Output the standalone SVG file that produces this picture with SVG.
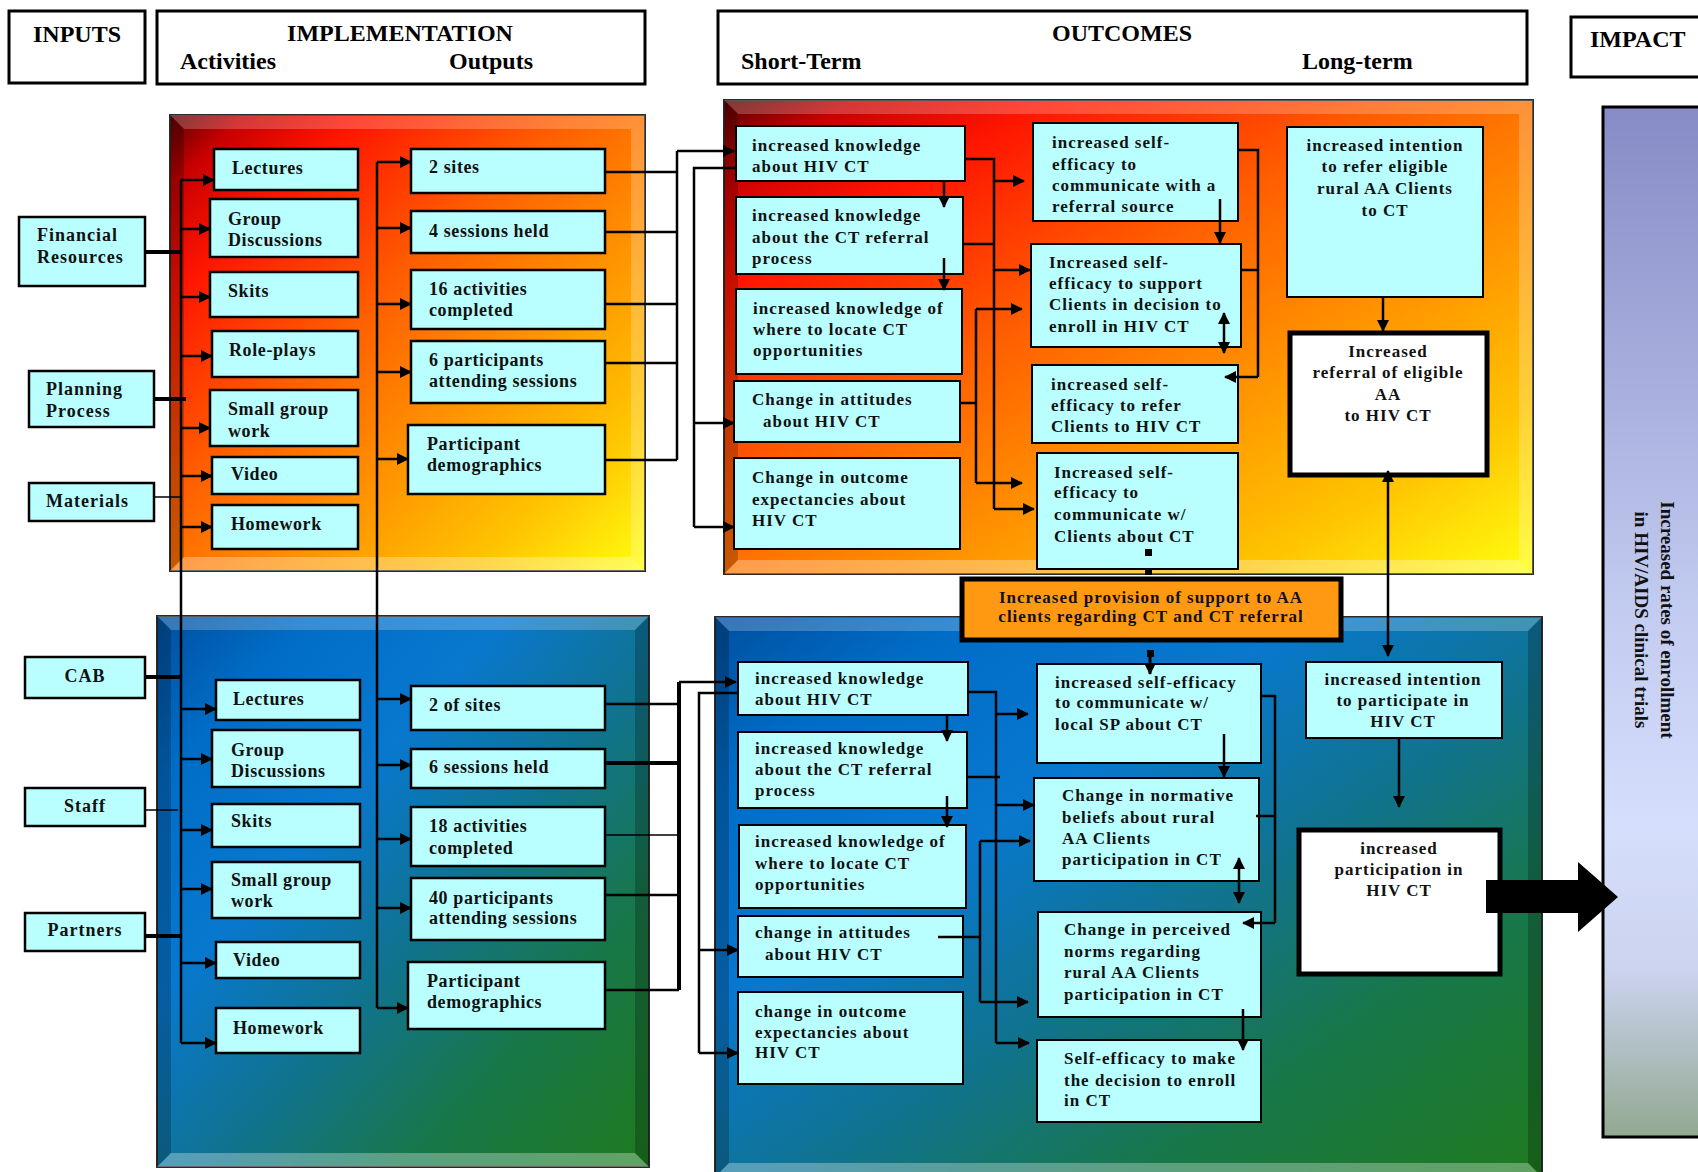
<svg xmlns="http://www.w3.org/2000/svg" width="1698" height="1172" viewBox="0 0 1698 1172">
<defs>
<linearGradient id="gTop" x1="0" y1="0" x2="1" y2="1">
<stop offset="0" stop-color="#5a0000"/><stop offset="0.08" stop-color="#c80000"/><stop offset="0.2" stop-color="#ff1500"/><stop offset="0.42" stop-color="#ff5e00"/><stop offset="0.62" stop-color="#ff9200"/><stop offset="0.82" stop-color="#ffc400"/><stop offset="1" stop-color="#ffff10"/>
</linearGradient>
<linearGradient id="gBot" x1="0" y1="0" x2="1" y2="1">
<stop offset="0" stop-color="#004f9e"/><stop offset="0.15" stop-color="#006cc6"/><stop offset="0.35" stop-color="#0878cf"/><stop offset="0.55" stop-color="#107390"/><stop offset="0.75" stop-color="#18774a"/><stop offset="1" stop-color="#1e7a1e"/>
</linearGradient>
<linearGradient id="gImp" x1="0" y1="0" x2="0" y2="1">
<stop offset="0" stop-color="#878bc6"/><stop offset="0.5" stop-color="#c4cdf1"/><stop offset="0.7" stop-color="#d5defb"/><stop offset="0.84" stop-color="#cbd3ee"/><stop offset="1" stop-color="#92a890"/>
</linearGradient>
<marker id="ah" viewBox="0 0 12 12" markerWidth="12" markerHeight="12" refX="11" refY="6" orient="auto-start-reverse" markerUnits="userSpaceOnUse"><path d="M0,0 L12,6 L0,12 z" fill="#000"/></marker>
<style>
.hb{fill:#fff;stroke:#000;stroke-width:3}
.h{font-family:"Liberation Serif","Times New Roman",serif;font-weight:bold;font-size:24px;fill:#000}
.bx{fill:#b9ffff;stroke:#000;stroke-width:2.5}
.ob{fill:#b9ffff;stroke:#000;stroke-width:2}
.wb{fill:#fff;stroke:#000;stroke-width:5}
.t{font-family:"Liberation Serif","Times New Roman",serif;font-weight:bold;font-size:18px;letter-spacing:0.6px;fill:#111}
.ti{font-family:"Liberation Serif","Times New Roman",serif;font-weight:bold;font-size:18px;letter-spacing:1px;fill:#111}
.to{font-family:"Liberation Serif","Times New Roman",serif;font-weight:bold;font-size:17px;letter-spacing:1px;fill:#111}
.tr{font-family:"Liberation Serif","Times New Roman",serif;font-weight:bold;font-size:19px;fill:#111;text-anchor:middle}
.c{text-anchor:middle}
.ln{fill:none;stroke:#000;stroke-width:2.5}
.lk{fill:none;stroke:#000;stroke-width:4}
.lt{fill:none;stroke:#000;stroke-width:1.5}
.ar{fill:none;stroke:#000;stroke-width:2.5;marker-end:url(#ah)}
.ar2{fill:none;stroke:#000;stroke-width:2.5;marker-start:url(#ah);marker-end:url(#ah)}
.pn{stroke:#2a2a2a;stroke-width:2}
.bl{fill:#fff;opacity:0.22}
.bd{fill:#000;opacity:0.22}
.bL{fill:#fff;opacity:0.3}
</style>
</defs>
<rect width="1698" height="1172" fill="#fff"/>

<!-- headers -->
<g id="hdr-inputs"><rect class="hb" x="9" y="11" width="136" height="72"/><text class="h c" x="77" y="42">INPUTS</text></g>
<g id="hdr-impl"><rect class="hb" x="157" y="11" width="488" height="73"/><text class="h c" x="400" y="41">IMPLEMENTATION</text><text class="h" x="180" y="69">Activities</text><text class="h" x="449" y="69">Outputs</text></g>
<g id="hdr-outcomes"><rect class="hb" x="718" y="11" width="809" height="73"/><text class="h c" x="1122" y="41">OUTCOMES</text><text class="h" x="741" y="69">Short-Term</text><text class="h" x="1302" y="69">Long-term</text></g>
<g id="hdr-impact"><rect class="hb" x="1571" y="17" width="140" height="60"/><text class="h" x="1590" y="47">IMPACT</text></g>

<!-- panels -->
<g id="panel-impl-top">
<rect class="pn" x="170" y="115" width="475" height="456" fill="url(#gTop)"/>
<polygon class="bl" points="170,115 645,115 631,129 184,129"/>
<polygon class="bd" points="170,115 184,129 184,557 170,571"/>
<polygon class="bl" points="645,115 645,571 631,557 631,129"/>
<polygon class="bL" points="170,571 645,571 631,557 184,557"/>
</g>
<g id="panel-out-top">
<rect class="pn" x="724" y="100" width="809" height="474" fill="url(#gTop)"/>
<polygon class="bl" points="724,100 1533,100 1519,114 738,114"/>
<polygon class="bd" points="724,100 738,114 738,560 724,574"/>
<polygon class="bl" points="1533,100 1533,574 1519,560 1519,114"/>
<polygon class="bL" points="724,574 1533,574 1519,560 738,560"/>
</g>
<g id="panel-impl-bot">
<rect class="pn" x="157" y="616" width="492" height="551" fill="url(#gBot)"/>
<polygon class="bl" points="157,616 649,616 635,630 171,630"/>
<polygon class="bd" points="157,616 171,630 171,1153 157,1167"/>
<polygon class="bd" points="649,616 649,1167 635,1153 635,630"/>
<polygon class="bL" points="157,1167 649,1167 635,1153 171,1153"/>
</g>
<g id="panel-out-bot">
<rect class="pn" x="715" y="617" width="827" height="560" fill="url(#gBot)"/>
<polygon class="bl" points="715,617 1542,617 1528,631 729,631"/>
<polygon class="bd" points="715,617 729,631 729,1163 715,1177"/>
<polygon class="bd" points="1542,617 1542,1177 1528,1163 1528,631"/>
<polygon class="bL" points="715,1177 1542,1177 1528,1163 729,1163"/>
</g>

<!-- impact -->
<g id="impact">
<rect x="1603" y="107" width="110" height="1030" fill="url(#gImp)" stroke="#000" stroke-width="3"/>
<text class="tr" transform="translate(1661,620) rotate(90)">Increased rates of enrollment</text>
<text class="tr" transform="translate(1635,620) rotate(90)">in HIV/AIDS clinical trials</text>
</g>

<!-- inputs -->
<g id="in-financial"><rect class="bx" x="19" y="217" width="126" height="69"/><text class="ti" x="37" y="241">Financial</text><text class="ti" x="37" y="263">Resources</text></g>
<g id="in-planning"><rect class="bx" x="29" y="371" width="125" height="56"/><text class="ti" x="46" y="395">Planning</text><text class="ti" x="46" y="417">Process</text></g>
<g id="in-materials"><rect class="bx" x="29" y="483" width="125" height="38"/><text class="ti" x="46" y="507">Materials</text></g>
<g id="in-cab"><rect class="bx" x="25" y="657" width="120" height="41"/><text class="ti c" x="85" y="682">CAB</text></g>
<g id="in-staff"><rect class="bx" x="25" y="788" width="120" height="38"/><text class="ti c" x="85" y="812">Staff</text></g>
<g id="in-partners"><rect class="bx" x="25" y="913" width="120" height="38"/><text class="ti c" x="85" y="936">Partners</text></g>

<!-- top activities -->
<g id="act-lectures-1"><rect class="bx" x="214" y="149" width="144" height="41"/><text class="t" x="232" y="174">Lectures</text></g>
<g id="act-group-1"><rect class="bx" x="210" y="199" width="148" height="58"/><text class="t" x="228" y="225">Group</text><text class="t" x="228" y="246">Discussions</text></g>
<g id="act-skits-1"><rect class="bx" x="210" y="272" width="148" height="45"/><text class="t" x="228" y="297">Skits</text></g>
<g id="act-roleplays-1"><rect class="bx" x="212" y="331" width="146" height="46"/><text class="t" x="229" y="356">Role-plays</text></g>
<g id="act-small-1"><rect class="bx" x="210" y="390" width="148" height="56"/><text class="t" x="228" y="415">Small group</text><text class="t" x="228" y="437">work</text></g>
<g id="act-video-1"><rect class="bx" x="212" y="457" width="146" height="37"/><text class="t" x="231" y="480">Video</text></g>
<g id="act-homework-1"><rect class="bx" x="212" y="505" width="146" height="44"/><text class="t" x="231" y="530">Homework</text></g>

<!-- top outputs -->
<g id="out-sites-1"><rect class="bx" x="411" y="149" width="194" height="44"/><text class="t" x="429" y="173">2 sites</text></g>
<g id="out-sessions-1"><rect class="bx" x="411" y="211" width="194" height="42"/><text class="t" x="429" y="237">4 sessions held</text></g>
<g id="out-activities-1"><rect class="bx" x="411" y="270" width="194" height="59"/><text class="t" x="429" y="295">16 activities</text><text class="t" x="429" y="316">completed</text></g>
<g id="out-participants-1"><rect class="bx" x="411" y="341" width="194" height="62"/><text class="t" x="429" y="366">6 participants</text><text class="t" x="429" y="387">attending sessions</text></g>
<g id="out-demo-1"><rect class="bx" x="408" y="425" width="197" height="69"/><text class="t" x="427" y="450">Participant</text><text class="t" x="427" y="471">demographics</text></g>

<!-- bottom activities -->
<g id="act-lectures-2"><rect class="bx" x="216" y="680" width="144" height="40"/><text class="t" x="233" y="705">Lectures</text></g>
<g id="act-group-2"><rect class="bx" x="212" y="730" width="148" height="57"/><text class="t" x="231" y="756">Group</text><text class="t" x="231" y="777">Discussions</text></g>
<g id="act-skits-2"><rect class="bx" x="212" y="804" width="148" height="43"/><text class="t" x="231" y="827">Skits</text></g>
<g id="act-small-2"><rect class="bx" x="212" y="862" width="148" height="56"/><text class="t" x="231" y="886">Small group</text><text class="t" x="231" y="907">work</text></g>
<g id="act-video-2"><rect class="bx" x="216" y="942" width="144" height="36"/><text class="t" x="233" y="966">Video</text></g>
<g id="act-homework-2"><rect class="bx" x="216" y="1008" width="144" height="45"/><text class="t" x="233" y="1034">Homework</text></g>

<!-- bottom outputs -->
<g id="out-sites-2"><rect class="bx" x="411" y="686" width="194" height="44"/><text class="t" x="429" y="711">2 of sites</text></g>
<g id="out-sessions-2"><rect class="bx" x="411" y="749" width="194" height="39"/><text class="t" x="429" y="773">6 sessions held</text></g>
<g id="out-activities-2"><rect class="bx" x="411" y="807" width="194" height="59"/><text class="t" x="429" y="832">18 activities</text><text class="t" x="429" y="854">completed</text></g>
<g id="out-participants-2"><rect class="bx" x="411" y="878" width="194" height="62"/><text class="t" x="429" y="904">40 participants</text><text class="t" x="429" y="924">attending sessions</text></g>
<g id="out-demo-2"><rect class="bx" x="408" y="962" width="197" height="67"/><text class="t" x="427" y="987">Participant</text><text class="t" x="427" y="1008">demographics</text></g>

<!-- top outcomes -->
<g id="oc-a1"><rect class="ob" x="736" y="126" width="229" height="55"/><text class="to" x="752" y="151">increased knowledge</text><text class="to" x="752" y="172">about HIV CT</text></g>
<g id="oc-b1"><rect class="ob" x="736" y="197" width="227" height="77"/><text class="to" x="752" y="221">increased knowledge</text><text class="to" x="752" y="243">about the CT referral</text><text class="to" x="752" y="264">process</text></g>
<g id="oc-c1"><rect class="ob" x="736" y="289" width="226" height="85"/><text class="to" x="753" y="314">increased knowledge of</text><text class="to" x="753" y="335">where to locate CT</text><text class="to" x="753" y="356">opportunities</text></g>
<g id="oc-d1"><rect class="ob" x="734" y="381" width="226" height="61"/><text class="to" x="752" y="405">Change in attitudes</text><text class="to" x="763" y="427">about HIV CT</text></g>
<g id="oc-e1"><rect class="ob" x="734" y="458" width="226" height="91"/><text class="to" x="752" y="483">Change in outcome</text><text class="to" x="752" y="505">expectancies about</text><text class="to" x="752" y="526">HIV CT</text></g>
<g id="oc-f1"><rect class="ob" x="1033" y="123" width="205" height="98"/><text class="to" x="1052" y="148">increased self-</text><text class="to" x="1052" y="170">efficacy to</text><text class="to" x="1052" y="191">communicate with a</text><text class="to" x="1052" y="212">referral source</text></g>
<g id="oc-g1"><rect class="ob" x="1031" y="244" width="210" height="103"/><text class="to" x="1049" y="268">Increased self-</text><text class="to" x="1049" y="289">efficacy to support</text><text class="to" x="1049" y="310">Clients in decision to</text><text class="to" x="1049" y="332">enroll in HIV CT</text></g>
<g id="oc-h1"><rect class="ob" x="1032" y="365" width="206" height="78"/><text class="to" x="1051" y="390">increased self-</text><text class="to" x="1051" y="411">efficacy to refer</text><text class="to" x="1051" y="432">Clients to HIV CT</text></g>
<g id="oc-i1"><rect class="ob" x="1037" y="453" width="201" height="116"/><text class="to" x="1054" y="478">Increased self-</text><text class="to" x="1054" y="498">efficacy to</text><text class="to" x="1054" y="520">communicate w/</text><text class="to" x="1054" y="542">Clients about CT</text></g>
<g id="oc-j1"><rect class="ob" x="1287" y="127" width="196" height="170"/><text class="to c" x="1385" y="151">increased intention</text><text class="to c" x="1385" y="172">to refer eligible</text><text class="to c" x="1385" y="194">rural AA Clients</text><text class="to c" x="1385" y="216">to CT</text></g>
<g id="oc-k1"><rect class="wb" x="1290" y="333" width="197" height="142"/><text class="to c" x="1388" y="357">Increased</text><text class="to c" x="1388" y="378">referral of eligible</text><text class="to c" x="1388" y="400">AA</text><text class="to c" x="1388" y="421">to HIV CT</text></g>

<!-- support box -->
<g id="support"><rect x="962" y="579" width="379" height="61" fill="#ff9912" stroke="#000" stroke-width="5"/><text class="to c" x="1151" y="603">Increased provision of support to AA</text><text class="to c" x="1151" y="622">clients regarding CT and CT referral</text></g>

<!-- bottom outcomes -->
<g id="oc-a2"><rect class="ob" x="738" y="662" width="230" height="53"/><text class="to" x="755" y="684">increased knowledge</text><text class="to" x="755" y="705">about HIV CT</text></g>
<g id="oc-b2"><rect class="ob" x="738" y="732" width="229" height="76"/><text class="to" x="755" y="754">increased knowledge</text><text class="to" x="755" y="775">about the CT referral</text><text class="to" x="755" y="796">process</text></g>
<g id="oc-c2"><rect class="ob" x="739" y="825" width="227" height="83"/><text class="to" x="755" y="847">increased knowledge of</text><text class="to" x="755" y="869">where to locate CT</text><text class="to" x="755" y="890">opportunities</text></g>
<g id="oc-d2"><rect class="ob" x="738" y="916" width="225" height="61"/><text class="to" x="755" y="938">change in attitudes</text><text class="to" x="765" y="960">about HIV CT</text></g>
<g id="oc-e2"><rect class="ob" x="738" y="992" width="225" height="92"/><text class="to" x="755" y="1017">change in outcome</text><text class="to" x="755" y="1038">expectancies about</text><text class="to" x="755" y="1058">HIV CT</text></g>
<g id="oc-f2"><rect class="ob" x="1037" y="664" width="224" height="99"/><text class="to" x="1055" y="688">increased self-efficacy</text><text class="to" x="1055" y="708">to communicate w/</text><text class="to" x="1055" y="730">local SP about CT</text></g>
<g id="oc-g2"><rect class="ob" x="1034" y="778" width="225" height="103"/><text class="to" x="1062" y="801">Change in normative</text><text class="to" x="1062" y="823">beliefs about rural</text><text class="to" x="1062" y="844">AA Clients</text><text class="to" x="1062" y="865">participation in CT</text></g>
<g id="oc-h2"><rect class="ob" x="1038" y="912" width="223" height="105"/><text class="to" x="1064" y="935">Change in perceived</text><text class="to" x="1064" y="957">norms regarding</text><text class="to" x="1064" y="978">rural AA Clients</text><text class="to" x="1064" y="1000">participation in CT</text></g>
<g id="oc-i2"><rect class="ob" x="1037" y="1040" width="224" height="82"/><text class="to" x="1064" y="1064">Self-efficacy to make</text><text class="to" x="1064" y="1086">the decision to enroll</text><text class="to" x="1064" y="1106">in CT</text></g>
<g id="oc-l2"><rect class="ob" x="1306" y="662" width="196" height="76"/><text class="to c" x="1403" y="685">increased intention</text><text class="to c" x="1403" y="706">to participate in</text><text class="to c" x="1403" y="727">HIV CT</text></g>
<g id="oc-m2"><rect class="wb" x="1299" y="830" width="201" height="144"/><text class="to c" x="1399" y="854">increased</text><text class="to c" x="1399" y="875">participation in</text><text class="to c" x="1399" y="896">HIV CT</text></g>

<!-- connectors -->
<g id="connectors">
<path class="ln" d="M181,180 V1043"/>
<path class="lk" d="M145,252 H181"/>
<path class="lk" d="M154,399 H186"/>
<path class="lt" d="M154,497 H181"/>
<path class="ar" d="M181,180 H214"/>
<path class="ar" d="M181,229 H210"/>
<path class="ar" d="M181,297 H210"/>
<path class="ar" d="M181,356 H212"/>
<path class="ar" d="M181,428 H210"/>
<path class="ar" d="M181,476 H212"/>
<path class="ar" d="M181,527 H212"/>
<path class="ln" d="M377,162 V1008"/>
<path class="ar" d="M377,162 H411"/>
<path class="ar" d="M377,228 H411"/>
<path class="ar" d="M377,304 H411"/>
<path class="ar" d="M377,372 H411"/>
<path class="ar" d="M377,459 H408"/>
<path class="ln" d="M605,172 H677 M605,232 H677 M605,304 H677 M605,363 H677 M605,460 H677"/>
<path class="ln" d="M677,460 V151"/>
<path class="ar" d="M677,151 H734"/>
<path class="ln" d="M737,168 H694 V527"/>
<path class="ar" d="M694,423 H734"/>
<path class="ar" d="M694,527 H734"/>

<path class="lk" d="M145,677 H181"/>
<path class="lt" d="M145,810 H178"/>
<path class="lk" d="M145,936 H181"/>
<path class="ar" d="M181,709 H216"/>
<path class="ar" d="M181,759 H212"/>
<path class="ar" d="M181,830 H212"/>
<path class="ar" d="M181,889 H212"/>
<path class="ar" d="M181,963 H216"/>
<path class="ar" d="M181,1043 H216"/>
<path class="ar" d="M377,699 H411"/>
<path class="ar" d="M377,765 H411"/>
<path class="ar" d="M377,839 H411"/>
<path class="ar" d="M377,908 H411"/>
<path class="ar" d="M377,1008 H408"/>
<path class="ln" d="M605,704 H679 M605,895 H679 M605,990 H679"/>
<path class="lk" d="M605,763 H679"/>
<path class="lt" d="M605,835 H679"/>
<path class="lk" d="M679,990 V682"/>
<path class="ar" d="M679,682 H736"/>
<path class="ln" d="M738,693 H699 V1053"/>
<path class="ar" d="M699,950 H738"/>
<path class="ar" d="M699,1053 H738"/>

<path class="ar" d="M944,181 V207"/>
<path class="ar" d="M944,258 V290"/>
<path class="ln" d="M965,159 H994 V509"/>
<path class="ln" d="M963,244 H994"/>
<path class="ar" d="M994,181 H1024"/>
<path class="ar" d="M994,270 H1030"/>
<path class="ar" d="M994,509 H1034"/>
<path class="ln" d="M960,403 H976"/>
<path class="ln" d="M976,309 V483"/>
<path class="ar" d="M976,309 H1022"/>
<path class="ar" d="M976,483 H1022"/>
<path class="ar" d="M1220,199 V243"/>
<path class="ar2" d="M1224,313 V353"/>
<path class="ln" d="M1238,150 H1258 V377"/>
<path class="ar" d="M1258,377 H1225"/>
<path class="ln" d="M1241,270 H1258"/>
<rect x="1145" y="549" width="7" height="7"/>
<rect x="1145" y="568" width="7" height="7"/>
<rect x="1147" y="650" width="7" height="7"/>
<path class="ar" d="M1150,657 V674" style="stroke-width:3"/>
<path class="ar" d="M1383,297 V331"/>
<path class="ar2" d="M1388,471 V656"/>
<path class="ar" d="M1399,738 V807"/>
<polygon points="1486,880 1578,880 1578,862 1618,897 1578,932 1578,913 1486,913" fill="#000"/>

<path class="ar" d="M947,715 V741"/>
<path class="ar" d="M947,796 V827"/>
<path class="ln" d="M968,692 H996 V1043"/>
<path class="ln" d="M967,777 H1000"/>
<path class="ar" d="M996,714 H1028"/>
<path class="ar" d="M996,805 H1034"/>
<path class="ar" d="M996,1043 H1029"/>
<path class="ln" d="M938,937 H980"/>
<path class="ln" d="M980,841 V1002"/>
<path class="ar" d="M980,841 H1030"/>
<path class="ar" d="M980,1002 H1028"/>
<path class="ar" d="M1224,734 V777"/>
<path class="ar2" d="M1239,858 V903"/>
<path class="ln" d="M1261,696 H1275 V923"/>
<path class="ar" d="M1275,923 H1243"/>
<path class="ln" d="M1256,816 H1275"/>
<path class="ar" d="M1243,1009 V1050"/>
</g>
</svg>
